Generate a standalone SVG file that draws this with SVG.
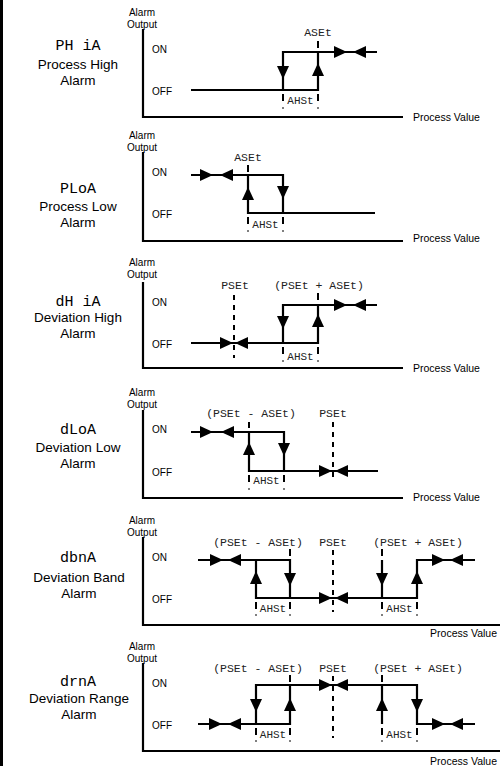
<svg xmlns="http://www.w3.org/2000/svg" xmlns:xlink="http://www.w3.org/1999/xlink" width="501" height="766" viewBox="0 0 501 766">
<style>
.ax{stroke:#000;stroke-width:2.2;fill:none}
.tr{stroke:#000;stroke-width:2.2;fill:none}
.ds{stroke:#000;stroke-width:2;stroke-dasharray:5 5;fill:none}
.tk{stroke:#000;stroke-width:2;fill:none}
.dt{stroke:#555;stroke-width:1.5;fill:none}
.lbl{font-family:"Liberation Sans",Arial,sans-serif;font-size:10px;fill:#000}
.pv{font-family:"Liberation Sans",Arial,sans-serif;font-size:10.5px;fill:#000}
.ttl{font-family:"Liberation Sans",Arial,sans-serif;font-size:13.5px;fill:#000;text-anchor:middle}
.mode{font-family:"Liberation Mono",monospace;font-size:15px;fill:#000;text-anchor:middle}
.seg{font-family:"Liberation Mono",monospace;font-size:11.5px;fill:#222;text-anchor:middle}
.ah{font-family:"Liberation Mono",monospace;font-size:11px;fill:#222;text-anchor:middle}
.mid{text-anchor:middle}
</style>
<defs>
<path id="aR" d="M0,0 L-13,-6 L-13,6 Z"/>
<path id="aL" d="M0,0 L13,-6 L13,6 Z"/>
<path id="aD" d="M0,0 L-6,-13 L6,-13 Z"/>
<path id="aU" d="M0,0 L-6,13 L6,13 Z"/>
</defs>
<rect x="0" y="0" width="3" height="766" fill="#000"/>

<!-- Panel 1 -->
<g id="p1">
<text class="lbl mid" x="142" y="15.5">Alarm</text>
<text class="lbl mid" x="142" y="27.5">Output</text>
<text class="lbl" x="152" y="52.5">ON</text>
<text class="lbl" x="152" y="94.5">OFF</text>
<text class="mode" x="78" y="50">PH iA</text>
<text class="ttl" x="78" y="68.5">Process High</text>
<text class="ttl" x="78" y="84.5">Alarm</text>
<path class="ax" d="M143,29 V117 H403"/>
<text class="pv" x="413" y="121">Process Value</text>
<path class="tr" d="M191,90 H318 V52 M283,90 V52 H377"/>
<use xlink:href="#aD" x="283" y="79"/>
<use xlink:href="#aU" x="318" y="63"/>
<use xlink:href="#aR" x="347" y="52"/>
<use xlink:href="#aL" x="353" y="52"/>
<text class="seg" x="318" y="36">ASEt</text>
<path class="tk" d="M318,41 V48"/>
<text class="ah" x="300.5" y="104">AHSt</text>
<path class="tk" d="M283,94 V101 M318,94 V101"/>
<path class="dt" d="M283,107 V109 M318,107 V109"/>
</g>

<!-- Panel 2 -->
<g id="p2">
<text class="lbl mid" x="142" y="138.5">Alarm</text>
<text class="lbl mid" x="142" y="150.5">Output</text>
<text class="lbl" x="152" y="175.5">ON</text>
<text class="lbl" x="152" y="217.5">OFF</text>
<text class="mode" x="78" y="193">PLoA</text>
<text class="ttl" x="78" y="211">Process Low</text>
<text class="ttl" x="78" y="227">Alarm</text>
<path class="ax" d="M143,152 V241 H403"/>
<text class="pv" x="413" y="242">Process Value</text>
<path class="tr" d="M191,175 H283 V213 M248,175 V213 H375"/>
<use xlink:href="#aR" x="213" y="175"/>
<use xlink:href="#aL" x="220" y="175"/>
<use xlink:href="#aU" x="248" y="187"/>
<use xlink:href="#aD" x="283" y="199"/>
<text class="seg" x="248" y="161">ASEt</text>
<path class="tk" d="M248,165 V172"/>
<text class="ah" x="265.5" y="228">AHSt</text>
<path class="tk" d="M248,217 V224 M283,217 V224"/>
<path class="dt" d="M248,230 V232 M283,230 V232"/>
</g>

<!-- Panel 3 -->
<g id="p3">
<text class="lbl mid" x="142" y="265.5">Alarm</text>
<text class="lbl mid" x="142" y="277.5">Output</text>
<text class="lbl" x="152" y="305.5">ON</text>
<text class="lbl" x="152" y="347.5">OFF</text>
<text class="mode" x="78" y="306">dH iA</text>
<text class="ttl" x="78" y="322">Deviation High</text>
<text class="ttl" x="78" y="338">Alarm</text>
<path class="ax" d="M143,282 V368 H403"/>
<text class="pv" x="413" y="372">Process Value</text>
<path class="ds" d="M234,295 V358"/>
<path class="tr" d="M191,343 H318 V305 M283,343 V305 H377"/>
<use xlink:href="#aR" x="233" y="343"/>
<use xlink:href="#aL" x="235" y="343"/>
<use xlink:href="#aD" x="283" y="329"/>
<use xlink:href="#aU" x="318" y="314"/>
<use xlink:href="#aR" x="347" y="305"/>
<use xlink:href="#aL" x="353" y="305"/>
<text class="seg" x="235" y="289">PSEt</text>
<text class="seg" x="319" y="289">(PSEt + ASEt)</text>
<path class="tk" d="M318,293 V300"/>
<text class="ah" x="300.5" y="360">AHSt</text>
<path class="tk" d="M283,347 V354 M318,347 V354"/>
<path class="dt" d="M283,360 V362 M318,360 V362"/>
</g>

<!-- Panel 4 -->
<g id="p4">
<text class="lbl mid" x="142" y="395.5">Alarm</text>
<text class="lbl mid" x="142" y="407.5">Output</text>
<text class="lbl" x="152" y="432.5">ON</text>
<text class="lbl" x="152" y="475.5">OFF</text>
<text class="mode" x="78" y="434">dLoA</text>
<text class="ttl" x="78" y="451.5">Deviation Low</text>
<text class="ttl" x="78" y="467.5">Alarm</text>
<path class="ax" d="M143,410 V498 H403"/>
<text class="pv" x="413" y="501">Process Value</text>
<path class="ds" d="M333,422 V482"/>
<path class="tr" d="M191,432 H284 V471 M249,432 V471 H378"/>
<use xlink:href="#aR" x="213" y="432"/>
<use xlink:href="#aL" x="221" y="432"/>
<use xlink:href="#aU" x="249" y="442"/>
<use xlink:href="#aD" x="284" y="456"/>
<use xlink:href="#aR" x="332" y="471"/>
<use xlink:href="#aL" x="335" y="471"/>
<text class="seg" x="251" y="417">(PSEt - ASEt)</text>
<path class="tk" d="M249,422 V428"/>
<text class="seg" x="333" y="417">PSEt</text>
<text class="ah" x="266.5" y="484">AHSt</text>
<path class="tk" d="M249,475 V482 M284,475 V482"/>
<path class="dt" d="M249,488 V490 M284,488 V490"/>
</g>

<!-- Panel 5 -->
<g id="p5">
<text class="lbl mid" x="142" y="523.5">Alarm</text>
<text class="lbl mid" x="142" y="535.5">Output</text>
<text class="lbl" x="152" y="560.5">ON</text>
<text class="lbl" x="152" y="602.5">OFF</text>
<text class="mode" x="78" y="562">dbnA</text>
<text class="ttl" x="79" y="581.5">Deviation  Band</text>
<text class="ttl" x="79" y="597.5">Alarm</text>
<path class="ax" d="M143,537 V625 H500"/>
<text class="pv" x="497" y="637" text-anchor="end">Process Value</text>
<path class="ds" d="M333,550 V612"/>
<path class="tr" d="M198,560 H290 V598 M256,560 V598 H417 V560 H475 M382,598 V560"/>
<use xlink:href="#aR" x="223" y="560"/>
<use xlink:href="#aL" x="228" y="560"/>
<use xlink:href="#aU" x="256" y="571"/>
<use xlink:href="#aD" x="290" y="586"/>
<use xlink:href="#aR" x="332" y="598"/>
<use xlink:href="#aL" x="335" y="598"/>
<use xlink:href="#aD" x="382" y="586"/>
<use xlink:href="#aU" x="417" y="571"/>
<use xlink:href="#aR" x="445" y="560"/>
<use xlink:href="#aL" x="450" y="560"/>
<text class="seg" x="258" y="546">(PSEt - ASEt)</text>
<text class="seg" x="333" y="546">PSEt</text>
<text class="seg" x="418" y="546">(PSEt + ASEt)</text>
<path class="tk" d="M290,549 V556 M382,549 V556"/>
<text class="ah" x="273" y="612">AHSt</text>
<text class="ah" x="399.5" y="612">AHSt</text>
<path class="tk" d="M256,602 V609 M290,602 V609 M382,602 V609 M417,602 V609"/>
<path class="dt" d="M256,614 V616 M290,614 V616 M382,614 V616 M417,614 V616"/>
</g>

<!-- Panel 6 -->
<g id="p6">
<text class="lbl mid" x="142" y="649.5">Alarm</text>
<text class="lbl mid" x="142" y="661.5">Output</text>
<text class="lbl" x="152" y="686.5">ON</text>
<text class="lbl" x="152" y="728.5">OFF</text>
<text class="mode" x="78" y="686">drnA</text>
<text class="ttl" x="79" y="703">Deviation Range</text>
<text class="ttl" x="79" y="719">Alarm</text>
<path class="ax" d="M143,663 V751 H500"/>
<text class="pv" x="497" y="765" text-anchor="end">Process Value</text>
<path class="ds" d="M333,676 V738"/>
<path class="tr" d="M198,724 H290 V685 M256,724 V685 H417 V724 H475 M382,685 V724"/>
<use xlink:href="#aR" x="222" y="724"/>
<use xlink:href="#aL" x="228" y="724"/>
<use xlink:href="#aD" x="256" y="712"/>
<use xlink:href="#aU" x="290" y="698"/>
<use xlink:href="#aR" x="332" y="685"/>
<use xlink:href="#aL" x="335" y="685"/>
<use xlink:href="#aU" x="382" y="698"/>
<use xlink:href="#aD" x="417" y="712"/>
<use xlink:href="#aR" x="445" y="724"/>
<use xlink:href="#aL" x="450" y="724"/>
<text class="seg" x="258" y="672">(PSEt - ASEt)</text>
<text class="seg" x="333" y="672">PSEt</text>
<text class="seg" x="418" y="672">(PSEt + ASEt)</text>
<path class="tk" d="M290,675 V682 M382,675 V682"/>
<text class="ah" x="273" y="738">AHSt</text>
<text class="ah" x="399.5" y="738">AHSt</text>
<path class="tk" d="M256,728 V735 M290,728 V735 M382,728 V735 M417,728 V735"/>
<path class="dt" d="M256,740 V742 M290,740 V742 M382,740 V742 M417,740 V742"/>
</g>
</svg>
